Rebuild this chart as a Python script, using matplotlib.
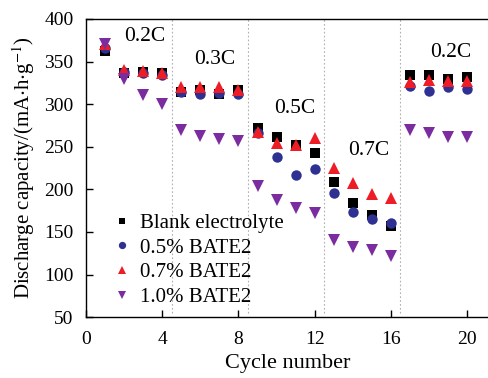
import matplotlib
matplotlib.use("Agg")
import matplotlib.pyplot as plt

plt.rcParams["font.family"] = ["Liberation Serif", "DejaVu Serif"]
plt.rcParams["mathtext.fontset"] = "stix"

# ---------------- Data ----------------
cycles = list(range(1, 21))
blank = [362, 337, 338, 336, 314, 316, 312, 317,
         272, 261, 252, 243, 209, 184, 170, 157,
         334, 334, 330, 332]
bate_05 = [366, 338, 337, 334, 314, 312, 313, 312,
           266, 238, 217, 224, 196, 173, 165, 160,
           321, 315, 320, 318]
bate_07 = [370, 340, 339, 337, 320, 320, 320, 316,
           267, 254, 252, 260, 225, 207, 194, 190,
           326, 328, 327, 327]
bate_10 = [371, 329, 311, 300, 270, 262, 259, 257,
           204, 187, 178, 172, 140, 132, 129, 122,
           270, 266, 261, 261]

series_labels = ["Blank electrolyte", "0.5% BATE2", "0.7% BATE2", "1.0% BATE2"]
rate_labels = ["0.2C", "0.3C", "0.5C", "0.7C", "0.2C"]
rate_bounds = [4.5, 8.5, 12.5, 16.5]

# ---------------- Plot ----------------
fig = plt.figure(figsize=(4.89, 3.78), dpi=100)
ax = fig.add_axes([0.176, 0.161, 0.824, 0.789])

styles = [
    dict(marker="s", color="black", ms=7),
    dict(marker="o", color="#2E3192", ms=7.5),
    dict(marker="^", color="#EE1C25", ms=8),
    dict(marker="v", color="#7B2C9E", ms=8),
]
for ys, lab, st in zip([blank, bate_05, bate_07, bate_10], series_labels, styles):
    ax.plot(cycles, ys, linestyle="none", marker=st["marker"], color=st["color"],
            markersize=st["ms"], markeredgewidth=0, label=lab)

ax.vlines(rate_bounds, 55, 400, colors="#b0b0b0", linestyles=(0, (1.5, 2)), linewidth=0.8)

label_pos = [(3.1, 379), (6.75, 352), (10.95, 295), (14.85, 246), (19.15, 361)]
for txt, (x, y) in zip(rate_labels, label_pos):
    ax.text(x, y, txt, ha="center", va="center", fontsize=15.5)

ax.set_xlim(0, 21.15)
ax.set_ylim(50, 400)
ax.set_xticks([0, 4, 8, 12, 16, 20])
ax.set_yticks(range(50, 401, 50))
ax.tick_params(direction="in", length=5, labelsize=14, width=1)
ax.tick_params(axis="x", pad=10)
ax.tick_params(axis="y", pad=9)
ax.spines["right"].set_visible(False)
for s in ["left", "bottom", "top"]:
    ax.spines[s].set_linewidth(1)

ax.set_xlabel("Cycle number", fontsize=16, labelpad=4)
ax.set_ylabel("Discharge capacity/(mA$\\cdot$h$\\cdot$g$^{-1}$)", fontsize=15, labelpad=5)

ax.legend(loc="lower left", bbox_to_anchor=(0.035, -0.012), frameon=False, fontsize=15,
          handlelength=0.8, handletextpad=0.45, labelspacing=0.25, markerscale=0.7,
          borderaxespad=0.25)

fig.savefig("out.png", dpi=100)
